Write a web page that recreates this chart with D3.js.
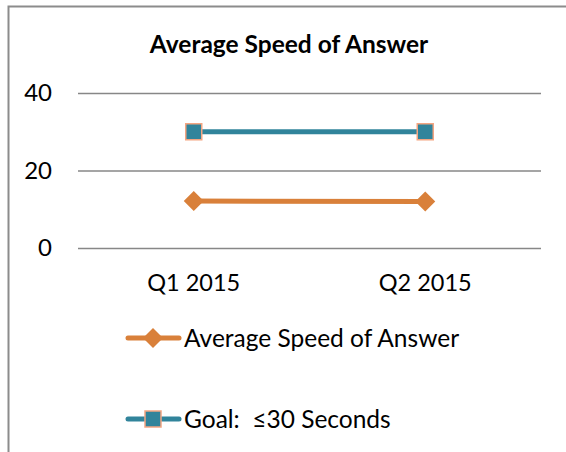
<!DOCTYPE html>
<html>
<head>
<meta charset="utf-8">
<script src="https://cdn.jsdelivr.net/npm/d3@7"></script>
<style>
  body { margin: 0; background: #fff; }
  svg { display: block; font-family: Lato, "Noto Sans", sans-serif; }
  text { white-space: pre; }
</style>
</head>
<body>
<div id="chart"></div>
<script>
// data
const quarters = ["Q1 2015", "Q2 2015"];
const asaValues = [12.1, 12.0];
const goalValues = [30, 30];
const yTicks = [0, 20, 40];
const seriesNames = ["Average Speed of Answer", "Goal:  \u226430 Seconds"];

const orange = "#d9803a";
const teal = "#31849b";
const squareEdge = "#f4a582";

const W = 566, H = 452;
const svg = d3.select("#chart").append("svg").attr("width", W).attr("height", H);

// chart border (only left and top fall inside the picture)
svg.append("rect")
    .attr("x", 8.5).attr("y", 6.5)
    .attr("width", W + 10).attr("height", H + 10)
    .attr("fill", "#fff")
    .attr("stroke", "#8c8c8c")
    .attr("stroke-width", 2);

svg.append("text")
    .attr("x", 289).attr("y", 53)
    .attr("text-anchor", "middle")
    .attr("font-weight", "bold")
    .attr("font-size", 24.5)
    .attr("fill", "#000")
    .text("Average Speed of Answer");

const plotL = 78, plotR = 541, plotT = 93, plotB = 248;

const x = d3.scaleBand().domain(quarters).range([plotL, plotR]);
const y = d3.scaleLinear().domain([0, 40]).range([plotB, plotT]);

// gridlines + y labels
const yAxis = svg.append("g")
    .attr("transform", `translate(${plotL},0)`)
    .call(d3.axisLeft(y).tickValues(yTicks).tickSize(-(plotR - plotL)).tickPadding(26));
yAxis.select(".domain").remove();
yAxis.selectAll(".tick line").attr("stroke", "#878787").attr("stroke-width", 1.5);
yAxis.selectAll(".tick text")
    .attr("font-size", 24).attr("fill", "#000")
    .attr("font-family", "Lato, 'Noto Sans', sans-serif");

// x labels
const xAxis = svg.append("g")
    .attr("transform", `translate(0,${plotB})`)
    .call(d3.axisBottom(x).tickSize(0).tickPadding(26));
xAxis.select(".domain").remove();
xAxis.selectAll(".tick text")
    .attr("font-size", 23.5).attr("fill", "#000")
    .attr("font-family", "Lato, 'Noto Sans', sans-serif");

const cx = d => x(d) + x.bandwidth() / 2;
const line = d3.line().x((d, i) => cx(quarters[i])).y(d => y(d));

function diamond(g, px, py) {
  g.append("path")
      .attr("d", `M${px - 10},${py} L${px},${py - 10} L${px + 10},${py} L${px},${py + 10} Z`)
      .attr("fill", orange);
}
function square(g, px, py) {
  g.append("rect")
      .attr("x", px - 8).attr("y", py - 8)
      .attr("width", 16).attr("height", 16)
      .attr("fill", teal)
      .attr("stroke", squareEdge)
      .attr("stroke-width", 1.5);
}

const plot = svg.append("g");
plot.append("path").datum(goalValues)
    .attr("fill", "none").attr("stroke", teal).attr("stroke-width", 5)
    .attr("d", line);
plot.append("path").datum(asaValues)
    .attr("fill", "none").attr("stroke", orange).attr("stroke-width", 5)
    .attr("d", line);
asaValues.forEach((v, i) => diamond(plot, cx(quarters[i]), y(v)));
goalValues.forEach((v, i) => square(plot, cx(quarters[i]), y(v)));

// legend
const legend = svg.append("g");
const legendY = [338, 419];
legendY.forEach((ly, i) => {
  legend.append("line")
      .attr("x1", 128).attr("x2", 179).attr("y1", ly).attr("y2", ly)
      .attr("stroke", i === 0 ? orange : teal)
      .attr("stroke-width", 5).attr("stroke-linecap", "round");
  if (i === 0) diamond(legend, 153, ly);
  else square(legend, 153, ly);
  legend.append("text")
      .attr("x", 184).attr("y", ly + 8.5)
      .attr("font-size", 24.5).attr("fill", "#000")
      .text(seriesNames[i]);
});
</script>
</body>
</html>
